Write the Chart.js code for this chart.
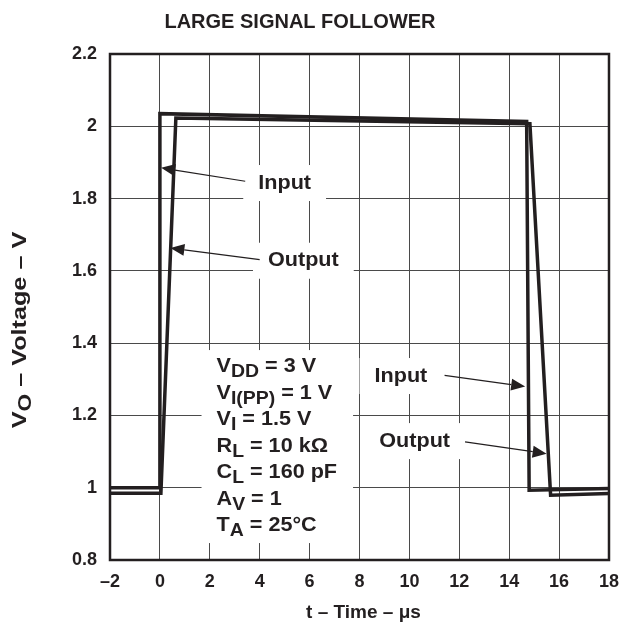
<!DOCTYPE html>
<html>
<head>
<meta charset="utf-8">
<script src="https://cdn.jsdelivr.net/npm/chart.js@4.4.1/dist/chart.umd.min.js"></script>
<style>
  html, body { margin: 0; padding: 0; background: #fff; }
</style>
</head>
<body>
<canvas id="chart" width="630" height="624"></canvas>
<script>
// Values
const inputTime = [-2, 0, 0, 14.7, 14.8, 18];
const inputVolts = [1.0, 1.0, 2.035, 2.013, 0.993, 0.998];
const outputTime = [-2, 0.04, 0.64, 14.83, 15.66, 18];
const outputVolts = [0.985, 0.985, 2.023, 2.007, 0.979, 0.984];

const xTickLabels = ["–2", "0", "2", "4", "6", "8", "10", "12", "14", "16", "18"];
const yTickLabels = ["0.8", "1", "1.2", "1.4", "1.6", "1.8", "2", "2.2"];

const conditions = [
  [{ t: "V" }, { t: "DD", sub: true }, { t: " = 3 V" }],
  [{ t: "V" }, { t: "I(PP)", sub: true }, { t: " = 1 V" }],
  [{ t: "V" }, { t: "I", sub: true }, { t: " = 1.5 V" }],
  [{ t: "R" }, { t: "L", sub: true }, { t: " = 10 kΩ" }],
  [{ t: "C" }, { t: "L", sub: true }, { t: " = 160 pF" }],
  [{ t: "A" }, { t: "V", sub: true }, { t: " = 1" }],
  [{ t: "T" }, { t: "A", sub: true }, { t: " = 25°C" }]
];

// label text, label centre and arrow start/tip, all in data units
const callouts = [
  { text: "Input", at: [5.0, 1.843], from: [3.42, 1.848], to: [0.05, 1.885] },
  { text: "Output", at: [5.75, 1.628], from: [4.0, 1.631], to: [0.42, 1.663] },
  { text: "Input", at: [9.66, 1.309], from: [11.41, 1.311], to: [14.64, 1.280] },
  { text: "Output", at: [10.21, 1.129], from: [12.23, 1.127], to: [15.5, 1.094] }
];

const ink = "#231f20";
const FONT = '"Liberation Sans", Arial, Helvetica, sans-serif';

function toPoints(xs, ys) {
  return xs.map((x, i) => ({ x: x, y: ys[i] }));
}

function runsWidth(ctx, runs, size, sx) {
  let w = 0;
  runs.forEach(r => {
    ctx.font = "bold " + (r.sub ? size * 0.9 : size) + "px " + FONT;
    w += ctx.measureText(r.t).width * sx;
  });
  return w;
}

// draws text pieces left to right, subscripts smaller and lowered, sx = horizontal stretch
function drawRuns(ctx, x, y, runs, size, sx) {
  let cx = x;
  runs.forEach(r => {
    ctx.font = "bold " + (r.sub ? size * 0.9 : size) + "px " + FONT;
    ctx.save();
    ctx.translate(cx, y + (r.sub ? size * 0.27 : 0));
    ctx.scale(sx, 1);
    ctx.fillText(r.t, 0, 0);
    ctx.restore();
    cx += ctx.measureText(r.t).width * sx;
  });
}

function arrow(ctx, x1, y1, x2, y2) {
  const ang = Math.atan2(y2 - y1, x2 - x1);
  const len = 14, half = 6;
  const bx = x2 - len * Math.cos(ang), by = y2 - len * Math.sin(ang);
  ctx.lineWidth = 1.2;
  ctx.beginPath();
  ctx.moveTo(x1, y1);
  ctx.lineTo(bx, by);
  ctx.stroke();
  ctx.beginPath();
  ctx.moveTo(x2, y2);
  ctx.lineTo(bx + half * Math.sin(ang), by - half * Math.cos(ang));
  ctx.lineTo(bx - half * Math.sin(ang), by + half * Math.cos(ang));
  ctx.closePath();
  ctx.fill();
}

const labelSize = 20;
const stretch = 1.08;
const blockLeft = 2.27;      // data x of condition block
const blockTop = 1.32;       // data y of first baseline
const lineStep = 26.5;       // px between baselines

const notes = {
  id: "notes",
  beforeDatasetsDraw(chart) {
    // white backing behind the texts, hides the grid like the original
    const ctx = chart.ctx, xs = chart.scales.x, ys = chart.scales.y;
    ctx.save();
    ctx.fillStyle = "#fff";
    callouts.forEach(c => {
      const w = runsWidth(ctx, [{ t: c.text }], labelSize, stretch);
      const cx = xs.getPixelForValue(c.at[0]), cy = ys.getPixelForValue(c.at[1]);
      ctx.fillRect(cx - w / 2 - 15, cy - 18, w + 30, 36);
    });
    const left = xs.getPixelForValue(blockLeft);
    const top = ys.getPixelForValue(blockTop);
    let maxW = 0;
    conditions.forEach(r => { maxW = Math.max(maxW, runsWidth(ctx, r, labelSize, stretch)); });
    ctx.fillRect(left - 15, top - 22, maxW + 31, (conditions.length - 1) * lineStep + 34);
    ctx.restore();
  },
  afterDatasetsDraw(chart) {
    const ctx = chart.ctx, xs = chart.scales.x, ys = chart.scales.y;
    const a = chart.chartArea;
    ctx.save();
    ctx.strokeStyle = ink;
    ctx.lineWidth = 2.5;
    ctx.strokeRect(a.left, a.top, a.right - a.left, a.bottom - a.top);

    ctx.fillStyle = ink;
    ctx.strokeStyle = ink;
    ctx.textAlign = "left";
    ctx.textBaseline = "middle";
    callouts.forEach(c => {
      const w = runsWidth(ctx, [{ t: c.text }], labelSize, stretch);
      drawRuns(ctx, xs.getPixelForValue(c.at[0]) - w / 2, ys.getPixelForValue(c.at[1]),
        [{ t: c.text }], labelSize, stretch);
      arrow(ctx, xs.getPixelForValue(c.from[0]), ys.getPixelForValue(c.from[1]),
        xs.getPixelForValue(c.to[0]), ys.getPixelForValue(c.to[1]));
    });

    ctx.textBaseline = "alphabetic";
    const left = xs.getPixelForValue(blockLeft);
    const top = ys.getPixelForValue(blockTop);
    conditions.forEach((r, i) => drawRuns(ctx, left, top + i * lineStep, r, labelSize, stretch));
    ctx.restore();
  },
  afterDraw(chart) {
    const ctx = chart.ctx;
    const a = chart.chartArea;
    ctx.save();
    ctx.fillStyle = ink;
    ctx.textBaseline = "middle";
    ctx.textAlign = "center";
    ctx.font = "bold 20px " + FONT;
    ctx.fillText("LARGE SIGNAL FOLLOWER", 300, 22);

    ctx.font = "bold 19px " + FONT;
    ctx.fillText("t – Time – μs", (a.left + a.right) / 2 + 4, 613);

    // rotated y title with subscript
    const yTitle = [{ t: "V" }, { t: "O", sub: true }, { t: " – Voltage – V" }];
    ctx.translate(20, 330);
    ctx.rotate(-Math.PI / 2);
    ctx.textAlign = "left";
    const w = runsWidth(ctx, yTitle, 21, 1.2);
    drawRuns(ctx, -w / 2, 0, yTitle, 21, 1.2);
    ctx.restore();
  }
};

new Chart(document.getElementById("chart"), {
  type: "scatter",
  data: {
    datasets: [
      {
        label: "Input",
        data: toPoints(inputTime, inputVolts),
        showLine: true,
        borderColor: ink,
        borderWidth: 3.5,
        pointRadius: 0,
        tension: 0
      },
      {
        label: "Output",
        data: toPoints(outputTime, outputVolts),
        showLine: true,
        borderColor: ink,
        borderWidth: 3.5,
        pointRadius: 0,
        tension: 0
      }
    ]
  },
  options: {
    responsive: false,
    animation: false,
    devicePixelRatio: 1,
    layout: { padding: { top: 54, right: 14, left: 0, bottom: 0 } },
    plugins: {
      legend: { display: false },
      tooltip: { enabled: false }
    },
    scales: {
      x: {
        type: "linear",
        min: -2,
        max: 18,
        afterFit: s => { s.height = 64; },
        ticks: {
          stepSize: 2,
          padding: 11,
          color: ink,
          font: { family: FONT, size: 18, weight: "bold" },
          maxRotation: 0,
          callback: (v, i) => xTickLabels[i]
        },
        grid: { color: "#4a4a4a", lineWidth: 1, drawTicks: false },
        border: { display: false }
      },
      y: {
        min: 0.8,
        max: 2.2,
        afterFit: s => { s.width = 110; },
        ticks: {
          stepSize: 0.2,
          padding: 13,
          color: ink,
          font: { family: FONT, size: 18, weight: "bold" },
          callback: (v, i) => yTickLabels[i]
        },
        grid: { color: "#4a4a4a", lineWidth: 1, drawTicks: false },
        border: { display: false }
      }
    }
  },
  plugins: [notes]
});
</script>
</body>
</html>
